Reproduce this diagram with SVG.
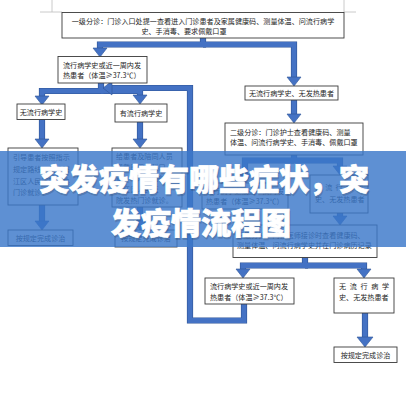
<svg xmlns="http://www.w3.org/2000/svg" width="406" height="400" viewBox="0 0 406 400">
<defs>
<style>
.bx{fill:#fff;stroke:#3a3a3a;stroke-width:0.9}
.t{font-family:"Noto Sans CJK SC","Liberation Sans",sans-serif;font-size:7.1px;fill:#1e1e1e}
.c{stroke:#4472C4;stroke-width:5;fill:none;stroke-linejoin:miter}
.ce{stroke:#2F5597;stroke-width:6.2;fill:none;stroke-linejoin:miter}
.h{fill:#4472C4;stroke:#2F5597;stroke-width:0.6}
.m{stroke:#bdbdbd;stroke-width:0.8;fill:none}
.ttl{font-family:"Noto Sans CJK SC","Noto Sans",sans-serif;font-size:30px;font-weight:900;fill:#fff;stroke:#fff;stroke-width:0.7;text-anchor:middle}
.sh{fill:#3b4a66;stroke:#3b4a66;opacity:0.3}
</style>
<path id="p1" d="M203,38 V44.5 H100 V49"/>
<path id="p2" d="M203,44.5 H294 V78"/>
<path id="p3" d="M101,83 V91 H42 V96"/>
<path id="p4" d="M101,91 H140 V96"/>
<path id="p5" d="M244,304 V320.5 H190 V88 H111"/>
<path id="p6" d="M42,119 V140"/>
<path id="p7" d="M42,205 V222"/>
<path id="p8" d="M140,122 V140"/>
<path id="p9" d="M140,207 V222"/>
<path id="p10" d="M294,100 V115"/>
<path id="p11" d="M294,155 V160.5 H340 V167"/>
<path id="p12" d="M294,160.5 H245 V175"/>
<path id="p13" d="M340,213 V217"/>
<path id="p14" d="M305,257 V265.5 H243 V270"/>
<path id="p15" d="M305,265.5 H364 V270"/>
<path id="p16" d="M365,313 V339"/>
</defs>
<rect width="406" height="400" fill="#fff"/>
<g id="marks">
<path class="m" d="M52,0 V12 M40,12 H62 M344,0 V12 M344,12 H356"/>
</g>
<g id="connectors">
<g class="ce">
<use href="#p1"/><use href="#p2"/><use href="#p3"/><use href="#p4"/><use href="#p5"/><use href="#p6"/><use href="#p7"/><use href="#p8"/>
<use href="#p9"/><use href="#p10"/><use href="#p11"/><use href="#p12"/><use href="#p13"/><use href="#p14"/><use href="#p15"/><use href="#p16"/>
</g>
<g class="c">
<use href="#p1"/><use href="#p2"/><use href="#p3"/><use href="#p4"/><use href="#p5"/><use href="#p6"/><use href="#p7"/><use href="#p8"/>
<use href="#p9"/><use href="#p10"/><use href="#p11"/><use href="#p12"/><use href="#p13"/><use href="#p14"/><use href="#p15"/><use href="#p16"/>
</g>
<g class="h">
<path d="M93,48 H107 L100,57 Z"/>
<path d="M287,77 H301 L294,86 Z"/>
<path d="M35,96 H49 L42,105 Z"/>
<path d="M133,95 H147 L140,104 Z"/>
<path d="M112,81 V95 L103,88 Z"/>
<path d="M35,139 H49 L42,148 Z"/>
<path d="M133,139 H147 L140,148 Z"/>
<path d="M35,221 H49 L42,230 Z"/>
<path d="M133,221 H147 L140,230 Z"/>
<path d="M287,114 H301 L294,123 Z"/>
<path d="M333,166 H347 L340,175 Z"/>
<path d="M238,174 H252 L245,183 Z"/>
<path d="M333,216 H347 L340,225 Z"/>
<path d="M236,269 H250 L243,278 Z"/>
<path d="M357,269 H371 L364,278 Z"/>
<path d="M357,337 H373 L365,347 Z"/>
</g>
</g>
<g id="n1">
<rect class="bx" x="62" y="12.5" width="282" height="25.5"/>
<text class="t" x="203" y="23.5" text-anchor="middle">一级分诊：门诊入口处提一查看进入门诊患者及家属健康码、测量体温、问流行病学</text>
<text class="t" x="184" y="34" text-anchor="middle">史、手消毒、要求佩戴口罩</text>
</g>
<g id="n2">
<rect class="bx" x="58" y="56.5" width="89" height="26.5"/>
<text class="t" x="63" y="67.5">流行病学史或近一周内发</text>
<text class="t" x="63" y="78">热患者（体温≥37.3℃）</text>
</g>
<g id="n3">
<rect class="bx" x="245" y="86" width="93" height="14"/>
<text class="t" x="291.5" y="95.5" text-anchor="middle">无流行病学史、无发热患者</text>
</g>
<g id="n4">
<rect class="bx" x="17" y="104" width="48" height="15.5"/>
<text class="t" x="41" y="114.5" text-anchor="middle">无流行病学史</text>
</g>
<g id="n5">
<rect class="bx" x="115" y="104" width="52" height="18"/>
<text class="t" x="141" y="115.5" text-anchor="middle">有流行病学史</text>
</g>
<g id="n6">
<rect class="bx" x="225" y="123" width="138" height="32"/>
<text class="t" x="230" y="134.5">二级分诊：门诊护士查看健康码、测量</text>
<text class="t" x="230" y="145">体温、问流行病学史、手消毒、佩戴口罩</text>
</g>
<g id="n7">
<rect class="bx" x="8" y="148" width="70" height="57"/>
<text class="t" x="13" y="159.5">引导患者按照指示</text>
<text class="t" x="13" y="171.5">规定路线，前往浦</text>
<text class="t" x="13" y="183.5">江区人民医院发热</text>
<text class="t" x="13" y="195">门诊就诊。</text>
</g>
<g id="n8">
<rect class="bx" x="112" y="148" width="70" height="59"/>
<text class="t" x="116" y="158.5">给患者及陪同人员</text>
<text class="t" x="116" y="169.5">佩戴医用外科口</text>
<text class="t" x="116" y="180.5">罩，专人陪同前往</text>
<text class="t" x="116" y="191.5">浦江区人民医</text>
<text class="t" x="116" y="202.5">院发热门诊就诊。</text>
</g>
<g id="n9">
<rect class="bx" x="202" y="183" width="86" height="26"/>
<text class="t" x="206" y="194">流行病学史或近一周内发</text>
<text class="t" x="206" y="204">热患者（体温≥37.3℃）</text>
</g>
<g id="n10">
<rect class="bx" x="310" y="175" width="58" height="38"/>
<text class="t" x="315" y="189.5" textLength="48" lengthAdjust="spacing">无流行病学</text>
<text class="t" x="315" y="201.5">史、无发热患者</text>
</g>
<g id="n11">
<rect class="bx" x="8" y="230" width="65" height="15.5"/>
<text class="t" x="40.5" y="240.5" text-anchor="middle">按规定完成诊治</text>
</g>
<g id="n12">
<rect class="bx" x="115" y="230" width="62" height="17"/>
<text class="t" x="146" y="241" text-anchor="middle">按规定完成诊治</text>
</g>
<g id="n13">
<rect class="bx" x="233" y="225" width="144" height="32.5"/>
<text class="t" x="237" y="237.5">三级分诊：门诊医师接诊时查看健康码、</text>
<text class="t" x="237" y="248">测量体温、问流行病学史并在门诊病历记录</text>
</g>
<g id="n14">
<rect class="bx" x="205" y="278" width="89" height="26"/>
<text class="t" x="210" y="289">流行病学史或近一周内发</text>
<text class="t" x="210" y="299.5">热患者（体温≥37.3℃）</text>
</g>
<g id="n15">
<rect class="bx" x="334" y="278" width="60" height="35"/>
<text class="t" x="339" y="289" textLength="50" lengthAdjust="spacing">无流行病学</text>
<text class="t" x="339" y="300">史、无发热患者</text>
</g>
<g id="n16">
<rect class="bx" x="334" y="347" width="63" height="15.5"/>
<text class="t" x="365.5" y="357.5" text-anchor="middle">按规定完成诊治</text>
</g>
<g id="banner">
<rect x="0" y="151" width="406" height="96" fill="#3A78C9" opacity="0.82"/>
<text class="ttl sh" x="205" y="191.5">突发疫情有哪些症状，突</text>
<text class="ttl sh" x="202" y="235.5">发疫情流程图</text>
<text class="ttl" x="204" y="190">突发疫情有哪些症状，突</text>
<text class="ttl" x="201" y="234">发疫情流程图</text>
</g>
</svg>
